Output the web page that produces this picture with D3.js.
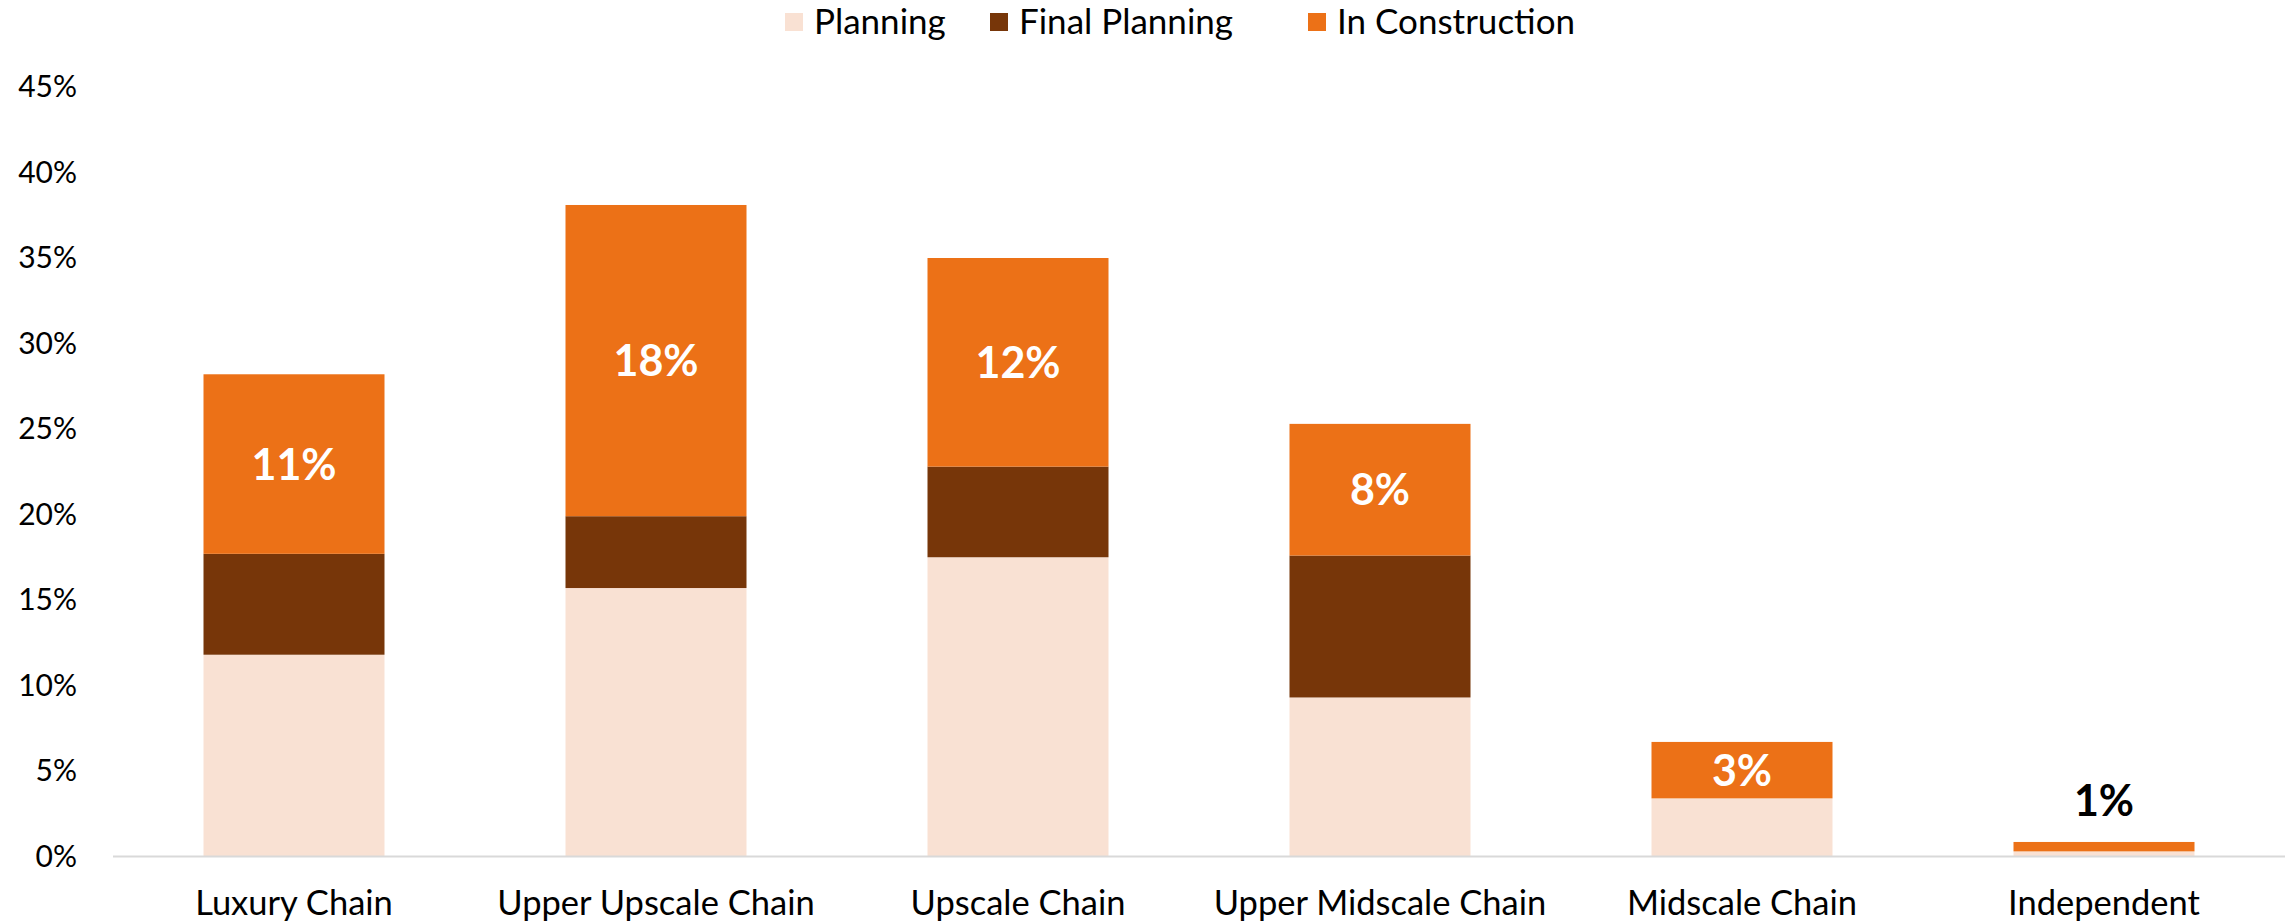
<!DOCTYPE html>
<html>
<head>
<meta charset="utf-8">
<script src="https://cdn.jsdelivr.net/npm/d3@7"></script>
<style>
  html, body { margin: 0; padding: 0; background: #fff; }
  svg { display: block; }
</style>
</head>
<body>
<svg id="chart" width="2292" height="924"></svg>
<script>
// ---- data ----
const categories = ["Luxury Chain", "Upper Upscale Chain", "Upscale Chain", "Upper Midscale Chain", "Midscale Chain", "Independent"];
const seriesNames = ["Planning", "Final Planning", "In Construction"];
const planning = [11.8, 15.7, 17.5, 9.3, 3.4, 0.3];
const finalPlanning = [5.9, 4.2, 5.3, 8.3, 0.0, 0.0];
const inConstruction = [10.5, 18.2, 12.2, 7.7, 3.3, 0.55];
const constructionLabels = ["11%", "18%", "12%", "8%", "3%", "1%"];
const yTicks = [0, 5, 10, 15, 20, 25, 30, 35, 40, 45];
const colors = ["#F9E1D3", "#773609", "#EC7117"];

// ---- layout ----
const svg = d3.select("#chart");
const margin = { left: 113, right: 2285, top: 87, bottom: 856.5 };
const font = "Lato, 'Open Sans', sans-serif";

const x = d3.scaleBand().domain(categories).range([margin.left, margin.right]).paddingInner(0.5).paddingOuter(0.25);
const y = d3.scaleLinear().domain([0, 45]).range([margin.bottom, margin.top]);

const rows = categories.map((c, i) => ({ cat: c, "Planning": planning[i], "Final Planning": finalPlanning[i], "In Construction": inConstruction[i] }));
const stacked = d3.stack().keys(seriesNames)(rows);

// y axis labels
const yAxis = d3.axisLeft(y).tickValues(yTicks).tickFormat(d => d + "%").tickSize(0).tickPadding(0);
const gy = svg.append("g").attr("transform", `translate(77,0)`).call(yAxis);
gy.select(".domain").remove();
gy.selectAll("text").attr("font-family", font).attr("font-size", 30).attr("fill", "#000");

// bars
svg.append("g").selectAll("g").data(stacked).join("g")
  .attr("fill", (d, i) => colors[i])
  .selectAll("rect").data(d => d).join("rect")
  .attr("x", d => x(d.data.cat))
  .attr("width", x.bandwidth())
  .attr("y", d => y(d[1]))
  .attr("height", d => Math.max(0, y(d[0]) - y(d[1])));

// baseline axis
const xAxis = d3.axisBottom(x).tickSize(0).tickPadding(34);
const gx = svg.append("g").attr("transform", `translate(0,${margin.bottom})`).call(xAxis);
gx.select(".domain").attr("stroke", "#d9d9d9").attr("stroke-width", 2)
  .attr("d", `M${margin.left},0H${margin.right}`);
gx.selectAll("text").attr("font-family", font).attr("font-size", 34.5).attr("fill", "#000");

// data labels for In Construction
const ic = stacked[2];
svg.append("g").selectAll("text").data(ic).join("text")
  .attr("x", d => x(d.data.cat) + x.bandwidth() / 2)
  .attr("y", d => {
    const h = y(d[0]) - y(d[1]);
    return h > 30 ? (y(d[0]) + y(d[1])) / 2 : y(d[1]) - 41;
  })
  .attr("dy", "0.36em")
  .attr("text-anchor", "middle")
  .attr("font-family", font)
  .attr("font-weight", 700)
  .attr("font-size", 43)
  .attr("fill", d => (y(d[0]) - y(d[1])) > 30 ? "#fff" : "#000")
  .text((d, i) => constructionLabels[i]);

// legend
const legendX = [785, 990, 1308];
const lg = svg.append("g").selectAll("g").data(seriesNames).join("g")
  .attr("transform", (d, i) => `translate(${legendX[i]},22)`);
lg.append("rect").attr("x", 0).attr("y", -9).attr("width", 18).attr("height", 18).attr("fill", (d, i) => colors[i]);
lg.append("text").attr("x", 29).attr("dy", "0.35em").attr("font-family", font).attr("font-size", 35).attr("fill", "#000").text(d => d);
</script>
</body>
</html>
